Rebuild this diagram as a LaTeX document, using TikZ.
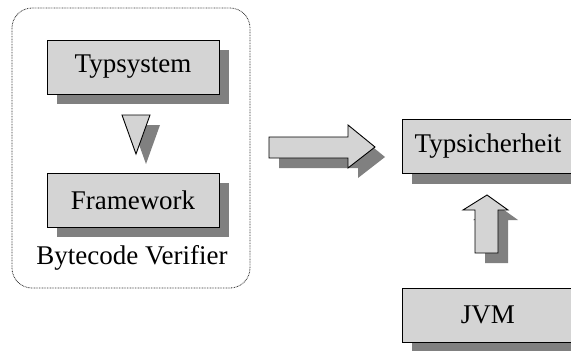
\documentclass[tikz,border=0pt]{standalone}
\usepackage{fontspec}
\setmainfont{Liberation Serif}
\usetikzlibrary{shadows}
\definecolor{boxfill}{RGB}{212,212,212}
\definecolor{shadowgray}{RGB}{128,128,128}
\tikzset{
  block/.style={draw=black, line width=0.9pt, fill=boxfill, minimum width=172pt, minimum height=54pt,
    inner sep=0pt, font=\rmfamily\fontsize{27}{31}\selectfont,
    drop shadow={shadow xshift=10pt, shadow yshift=-10pt, fill=shadowgray, opacity=1}},
  blockarrow/.style={draw=black, line width=0.9pt, fill=boxfill},
  arrowshadow/.style={fill=shadowgray, draw=none},
  container/.style={draw=black!80, line width=0.8pt, dash pattern=on 0.8pt off 0.8pt, rounded corners=20pt}
}
\begin{document}
\begin{tikzpicture}[x=1pt,y=-1pt]
\useasboundingbox (0,0) rectangle (571,351);
\draw[container] (12,8) rectangle (250,288);
\node[block] (typsystem) at (133,67) {Typsystem};
\node[block] (framework) at (133,200) {Framework};
\node[font=\rmfamily\fontsize{27}{31}\selectfont] (bv) at (132,258) {Bytecode Verifier};
\node[block] (typsicherheit) at (488,146.5) {Typsicherheit};
\node[block] (jvm) at (488,315) {JVM};
% down triangle between Typsystem and Framework
\fill[arrowshadow] (132,125) -- (160,125) -- (146,164) -- cycle;
\draw[blockarrow] (122,115) -- (150,115) -- (136,154) -- cycle;
% right block arrow
\begin{scope}[shift={(10,10)}]
\fill[arrowshadow] (269,137) -- (348,137) -- (348,125) -- (375,147) -- (348,168) -- (348,158) -- (269,158) -- cycle;
\end{scope}
\draw[blockarrow] (269,137) -- (348,137) -- (348,125) -- (375,147) -- (348,168) -- (348,158) -- (269,158) -- cycle;
% up block arrow
\begin{scope}[shift={(10,10)}]
\fill[arrowshadow] (487,195) -- (508,210) -- (498,210) -- (498,253) -- (475,253) -- (475,210) -- (463,210) -- cycle;
\end{scope}
\draw[blockarrow] (487,195) -- (508,210) -- (498,210) -- (498,253) -- (475,253) -- (475,210) -- (463,210) -- cycle;
\end{tikzpicture}
\end{document}
